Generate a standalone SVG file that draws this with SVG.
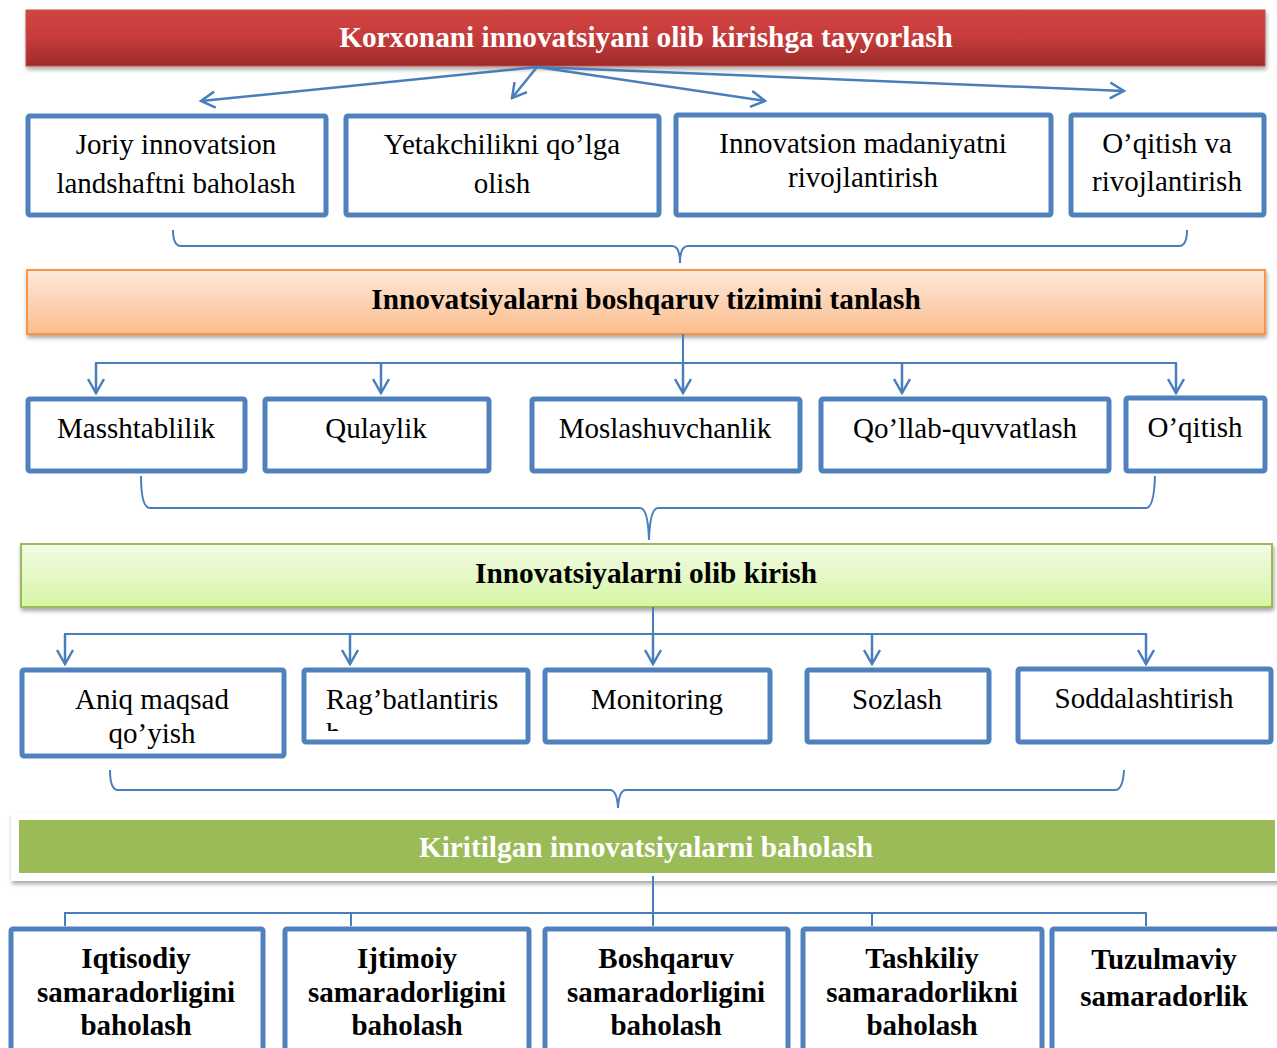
<svg xmlns="http://www.w3.org/2000/svg" width="1277" height="1048" viewBox="0 0 1277 1048">
  <style>
    .box { fill: #ffffff; stroke: #4f81bd; stroke-width: 5; }
    .t { font-family: "Liberation Serif", "Times New Roman", serif; font-size: 29px; fill: #000; text-anchor: middle; }
    .tl { font-family: "Liberation Serif", "Times New Roman", serif; font-size: 29px; fill: #000; text-anchor: start; }
    .tb { font-family: "Liberation Serif", "Times New Roman", serif; font-size: 29px; font-weight: bold; fill: #000; text-anchor: middle; }
    .hd { font-family: "Liberation Serif", "Times New Roman", serif; font-size: 29.3px; font-weight: bold; text-anchor: middle; }
    .ln { fill: none; stroke: #4a7ebb; stroke-width: 2; }
    .ar { fill: none; stroke: #4a7ebb; stroke-width: 2.5; marker-end: url(#chev); }
  </style>
  <defs>
    <marker id="chev" viewBox="0 0 20 20" refX="18" refY="10" markerWidth="20" markerHeight="20" markerUnits="userSpaceOnUse" orient="auto">
      <path d="M4,2 L18,10 L4,18" fill="none" stroke="#4a7ebb" stroke-width="2.5"/>
    </marker>
    <linearGradient id="gRed" x1="0" y1="0" x2="0" y2="1">
      <stop offset="0" stop-color="#d44343"/>
      <stop offset="0.5" stop-color="#c43c3a"/>
      <stop offset="1" stop-color="#9e2b2a"/>
    </linearGradient>
    <linearGradient id="gOrange" x1="0" y1="0" x2="0" y2="1">
      <stop offset="0" stop-color="#fde9dc"/>
      <stop offset="1" stop-color="#fbbd8c"/>
    </linearGradient>
    <linearGradient id="gGreen" x1="0" y1="0" x2="0" y2="1">
      <stop offset="0" stop-color="#f3fbe6"/>
      <stop offset="1" stop-color="#d6f6a4"/>
    </linearGradient>
    <filter id="shadow" x="-5%" y="-30%" width="110%" height="170%">
      <feDropShadow dx="1" dy="3" stdDeviation="2" flood-color="#000" flood-opacity="0.35"/>
    </filter>
    <clipPath id="clipRag">
      <rect x="305" y="671" width="221" height="60"/>
    </clipPath>
  </defs>

  <rect width="1277" height="1048" fill="#ffffff"/>

  <!-- stage headers -->
  <g id="stage1">
    <rect x="26" y="10" width="1239" height="56" fill="url(#gRed)" stroke="#c0504d" stroke-width="1" filter="url(#shadow)"/>
    <text class="hd" x="646" y="47" fill="#ffffff">Korxonani innovatsiyani olib kirishga tayyorlash</text>
  </g>
  <g id="stage2">
    <rect x="27" y="270" width="1238" height="64" fill="url(#gOrange)" stroke="#f79646" stroke-width="2" filter="url(#shadow)"/>
    <text class="hd" x="646" y="309" fill="#000000">Innovatsiyalarni boshqaruv tizimini tanlash</text>
  </g>
  <g id="stage3">
    <rect x="21" y="544" width="1251" height="63" fill="url(#gGreen)" stroke="#9bbb59" stroke-width="2" filter="url(#shadow)"/>
    <text class="hd" x="646" y="583" fill="#000000">Innovatsiyalarni olib kirish</text>
  </g>
  <g id="stage4">
    <rect x="11" y="813" width="1270" height="68" fill="#ffffff" filter="url(#shadow)"/>
    <rect x="19" y="820" width="1256" height="53" fill="#9bbb59"/>
    <text class="hd" x="646" y="857" fill="#ffffff">Kiritilgan innovatsiyalarni baholash</text>
  </g>

  <!-- row 1 -->
  <g id="joriy">
    <rect class="box" x="28" y="116" width="298" height="99" rx="2"/>
    <text class="t" x="176" y="154">Joriy innovatsion</text>
    <text class="t" x="176" y="193">landshaftni baholash</text>
  </g>
  <g id="yetakchilik">
    <rect class="box" x="346" y="116" width="313" height="99" rx="2"/>
    <text class="t" x="502" y="154">Yetakchilikni qo’lga</text>
    <text class="t" x="502" y="193">olish</text>
  </g>
  <g id="madaniyat">
    <rect class="box" x="676" y="115" width="375" height="100" rx="2"/>
    <text class="t" x="863" y="153">Innovatsion madaniyatni</text>
    <text class="t" x="863" y="187">rivojlantirish</text>
  </g>
  <g id="oqitish-va">
    <rect class="box" x="1071" y="115" width="193" height="100" rx="2"/>
    <text class="t" x="1167" y="153">O’qitish va</text>
    <text class="t" x="1167" y="191">rivojlantirish</text>
  </g>

  <!-- row 2 -->
  <g id="masshtablilik">
    <rect class="box" x="28" y="399" width="217" height="72" rx="2"/>
    <text class="t" x="136" y="438">Masshtablilik</text>
  </g>
  <g id="qulaylik">
    <rect class="box" x="265" y="399" width="224" height="72" rx="2"/>
    <text class="t" x="376" y="438">Qulaylik</text>
  </g>
  <g id="moslashuvchanlik">
    <rect class="box" x="532" y="399" width="268" height="72" rx="2"/>
    <text class="t" x="665" y="438">Moslashuvchanlik</text>
  </g>
  <g id="qollab">
    <rect class="box" x="821" y="399" width="288" height="72" rx="2"/>
    <text class="t" x="965" y="438">Qo’llab-quvvatlash</text>
  </g>
  <g id="oqitish">
    <rect class="box" x="1126" y="398" width="139" height="73" rx="2"/>
    <text class="t" x="1195" y="437">O’qitish</text>
  </g>

  <!-- row 3 -->
  <g id="aniq">
    <rect class="box" x="22" y="670" width="262" height="86" rx="2"/>
    <text class="t" x="152" y="709">Aniq maqsad</text>
    <text class="t" x="152" y="743">qo’yish</text>
  </g>
  <g id="ragbat">
    <rect class="box" x="304" y="670" width="224" height="72" rx="2"/>
    <g clip-path="url(#clipRag)">
      <text class="tl" x="326" y="709">Rag’batlantiris</text>
      <text class="tl" x="326" y="743">h</text>
    </g>
  </g>
  <g id="monitoring">
    <rect class="box" x="545" y="670" width="225" height="72" rx="2"/>
    <text class="t" x="657" y="709">Monitoring</text>
  </g>
  <g id="sozlash">
    <rect class="box" x="807" y="670" width="182" height="72" rx="2"/>
    <text class="t" x="897" y="709">Sozlash</text>
  </g>
  <g id="soddalashtirish">
    <rect class="box" x="1018" y="669" width="253" height="73" rx="2"/>
    <text class="t" x="1144" y="708">Soddalashtirish</text>
  </g>

  <!-- row 4 -->
  <g id="iqtisodiy">
    <rect class="box" x="11" y="929" width="252" height="130" rx="2"/>
    <text class="tb" x="136" y="968">Iqtisodiy</text>
    <text class="tb" x="136" y="1002">samaradorligini</text>
    <text class="tb" x="136" y="1035">baholash</text>
  </g>
  <g id="ijtimoiy">
    <rect class="box" x="285" y="929" width="244" height="130" rx="2"/>
    <text class="tb" x="407" y="968">Ijtimoiy</text>
    <text class="tb" x="407" y="1002">samaradorligini</text>
    <text class="tb" x="407" y="1035">baholash</text>
  </g>
  <g id="boshqaruv">
    <rect class="box" x="545" y="929" width="243" height="130" rx="2"/>
    <text class="tb" x="666" y="968">Boshqaruv</text>
    <text class="tb" x="666" y="1002">samaradorligini</text>
    <text class="tb" x="666" y="1035">baholash</text>
  </g>
  <g id="tashkiliy">
    <rect class="box" x="803" y="929" width="239" height="130" rx="2"/>
    <text class="tb" x="922" y="968">Tashkiliy</text>
    <text class="tb" x="922" y="1002">samaradorlikni</text>
    <text class="tb" x="922" y="1035">baholash</text>
  </g>
  <g id="tuzulmaviy">
    <rect class="box" x="1052" y="929" width="230" height="130" rx="2"/>
    <text class="tb" x="1164" y="969">Tuzulmaviy</text>
    <text class="tb" x="1164" y="1006">samaradorlik</text>
  </g>

  <!-- connectors -->
  <g id="connectors">
    <!-- stage 1 fan-out -->
    <path class="ar" d="M537,67 L201,101"/>
    <path class="ar" d="M537,67 L512,98"/>
    <path class="ar" d="M537,67 L765,101"/>
    <path class="ar" d="M537,67 L1124,91"/>
    <!-- brace into stage 2 -->
    <path class="ln" d="M173,230 Q173,246 181,246 L672,246 Q680,246 680,263 Q680,246 688,246 L1179,246 Q1187,246 1187,230"/>
    <!-- stage 2 distribution -->
    <path class="ln" d="M683,334 L683,363"/>
    <path class="ln" d="M96,393 L96,363 L1176,363 L1176,393"/>
    <path class="ar" d="M96,363 L96,393"/>
    <path class="ar" d="M381,363 L381,393"/>
    <path class="ar" d="M683,363 L683,393"/>
    <path class="ar" d="M902,363 L902,393"/>
    <path class="ar" d="M1176,363 L1176,393"/>
    <!-- brace into stage 3 -->
    <path class="ln" d="M141,476 Q141,508 150,508 L640,508 Q648,508 649,540 Q650,508 658,508 L1146,508 Q1154,508 1155,476"/>
    <!-- stage 3 distribution -->
    <path class="ln" d="M653,607 L653,634"/>
    <path class="ln" d="M65,663 L65,634 L1146,634 L1146,663"/>
    <path class="ar" d="M65,634 L65,664"/>
    <path class="ar" d="M350,634 L350,664"/>
    <path class="ar" d="M653,634 L653,664"/>
    <path class="ar" d="M872,634 L872,664"/>
    <path class="ar" d="M1146,634 L1146,664"/>
    <!-- brace into stage 4 -->
    <path class="ln" d="M110,770 Q110,790 118,790 L610,790 Q617,790 618,808 Q619,790 626,790 L1115,790 Q1123,790 1124,770"/>
    <!-- stage 4 distribution -->
    <path class="ln" d="M653,876 L653,926"/>
    <path class="ln" d="M65,926 L65,913 L1146,913 L1146,926"/>
    <path class="ln" d="M351,913 L351,926"/>
    <path class="ln" d="M872,913 L872,926"/>
  </g>
</svg>
